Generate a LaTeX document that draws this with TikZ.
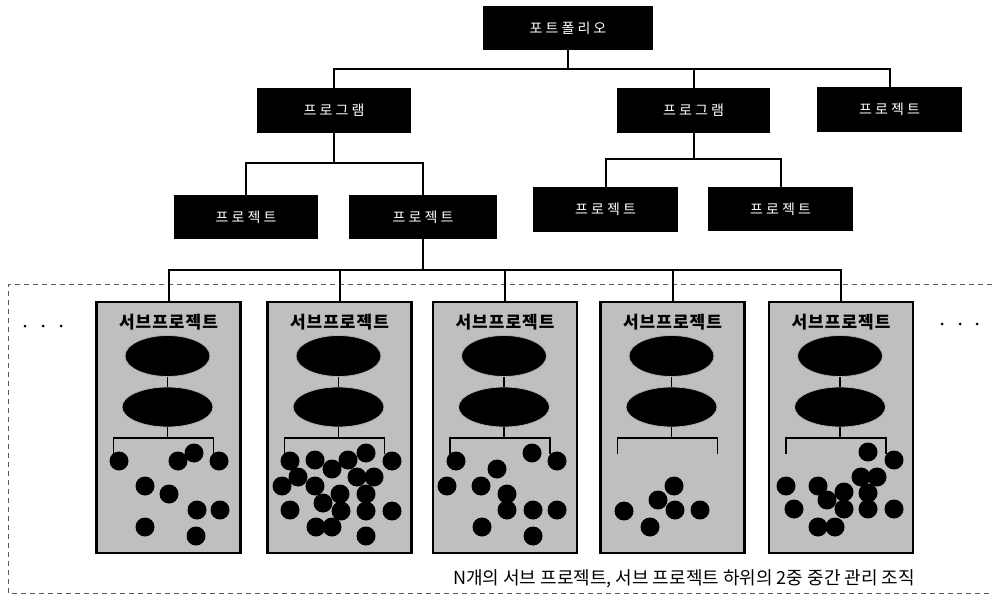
\documentclass[tikz,border=0pt]{standalone}
\usepackage{fontspec}
\newfontfamily\kr{Noto Sans CJK KR}
\newfontfamily\krsp[LetterSpace=22]{Noto Sans CJK KR}
\newfontfamily\krti[LetterSpace=6]{Noto Sans CJK KR}
\usetikzlibrary{shapes.geometric}
\tikzset{
 blk/.style={fill=black, text=white, inner sep=0pt, font={\krsp\fontsize{14pt}{14pt}\selectfont}},
 subbox/.style={draw=black, line width=2.5pt, fill=black!25, minimum width=144pt, minimum height=251pt, inner sep=0pt},
 conn/.style={line width=2pt, black},
 ell/.style={ellipse, fill=black, draw=gray!60, line width=0.8pt, inner sep=0pt},
 brk/.style={line width=1.2pt, black},
 subtitle/.style={inner sep=0pt, font={\krti\bfseries\fontsize{17pt}{17pt}\selectfont}},
 frame/.style={draw=black!65, line width=1pt, dash pattern=on 5pt off 4pt}
}
\begin{document}
\begin{tikzpicture}[x=1pt,y=-1pt]
\useasboundingbox[fill=white] (0,0) rectangle (992,601);

% dashed frame
\coordinate (fA) at (992,285);
\coordinate (fB) at (8,285);
\coordinate (fC) at (8,593);
\coordinate (fD) at (992,593);
\draw[frame] (fA) -- (fB) -- (fC) -- (fD);

% top tree
\node[blk, minimum width=170pt, minimum height=44pt] (pf) at (568,28) {포트폴리오};
\node[blk, minimum width=154pt, minimum height=45pt] (pg1) at (334,110.5) {프로그램};
\node[blk, minimum width=153pt, minimum height=45pt] (pg2) at (693.5,110.5) {프로그램};
\node[blk, minimum width=145pt, minimum height=45pt] (pj0) at (889.5,109.5) {프로젝트};
\node[blk, minimum width=144pt, minimum height=44pt] (pj1) at (246,217) {프로젝트};
\node[blk, minimum width=148pt, minimum height=44pt] (pj2) at (423,217) {프로젝트};
\node[blk, minimum width=145pt, minimum height=45pt] (pj3) at (605.5,209.5) {프로젝트};
\node[blk, minimum width=145pt, minimum height=44pt] (pj4) at (780.5,209) {프로젝트};

\coordinate (l1) at (0,69);
\coordinate (l2) at (0,163);
\coordinate (l3) at (0,159);
\coordinate (l4) at (0,270);

% subproject boxes
\foreach \i/\cx in {1/168.5, 2/339.5, 3/505, 4/672.5, 5/841}{
  \node[subbox] (sp\i) at (\cx,427.5) {};
  \node[subtitle] (t\i) at (\cx,322) {서브프로젝트};
  \node[ell, minimum width=85pt, minimum height=41pt] (ea\i) at (\cx-1,356) {};
  \node[ell, minimum width=91pt, minimum height=40pt] (eb\i) at (\cx-1,407) {};
  \coordinate (bk\i) at (\cx-1,438);
  \coordinate (bl\i) at (\cx-55,438);
  \coordinate (br\i) at (\cx+45,438);
  \coordinate (bld\i) at (\cx-55,454);
  \coordinate (brd\i) at (\cx+45,454);
  \draw[brk] (ea\i.south) -- (eb\i.north);
  \draw[brk] (eb\i.south) -- (bk\i);
  \draw[brk] (bld\i) -- (bl\i) -- (br\i) -- (brd\i);
}

% connectors
\draw[conn] (pf.south) -- (pf.south |- l1);
\draw[conn] (pg1.north) -- (pg1.north |- l1) -- (pj0.north |- l1) -- (pj0.north);
\draw[conn] (pg2.north) -- (pg2.north |- l1);
\draw[conn] (pg1.south) -- (pg1.south |- l2);
\draw[conn] (pj1.north) -- (pj1.north |- l2) -- (pj2.north |- l2) -- (pj2.north);
\draw[conn] (pg2.south) -- (pg2.south |- l3);
\draw[conn] (pj3.north) -- (pj3.north |- l3) -- (pj4.north |- l3) -- (pj4.north);
\draw[conn] (pj2.south) -- (pj2.south |- l4);
\draw[conn] (sp1.north) -- (sp1.north |- l4) -- (sp5.north |- l4) -- (sp5.north);
\foreach \i in {2,3,4}{
  \draw[conn] (sp\i.north) -- (sp\i.north |- l4);
}

% members (dots)
\foreach \p in {(119,461),(178,461),(194,453),(219,461),(145,486),(169,494),(197,510),(220,510),(145,527),(196,536),
  (290,461),(315,460),(348,460),(366,453),(392,461),(332,469),(298,477),(357,477),(374,477),(282,486),(315,486),(340,494),(366,494),(323,503),(290,510),(341,511),(366,511),(392,511),(316,527),(332,527),(366,536),
  (456,461),(532,453),(557,461),(497,469),(447,486),(481,486),(507,494),(507,510),(533,510),(557,510),(482,527),(533,536),
  (674,486),(658,500),(675,510),(624,511),(700,510),(650,527),
  (868,452),(894,460),(786,486),(818,486),(861,477),(877,477),(844,492),(868,493),(827,500),(794,509),(844,509),(868,509),(894,509),(818,527),(835,527)}{
  \fill[black] \p circle[radius=9.5pt];
}

% ellipsis dots
\foreach \x in {25,43,61}{\fill[black] (\x,326) circle[radius=1.5pt];}
\foreach \x in {942,960,977}{\fill[black] (\x,324) circle[radius=1.5pt];}

% caption
\node[inner sep=0pt, font={\kr\fontsize{18pt}{18pt}\selectfont}] (cap) at (684,579) {N개의 서브 프로젝트, 서브 프로젝트 하위의 2중 중간 관리 조직};
\end{tikzpicture}
\end{document}
